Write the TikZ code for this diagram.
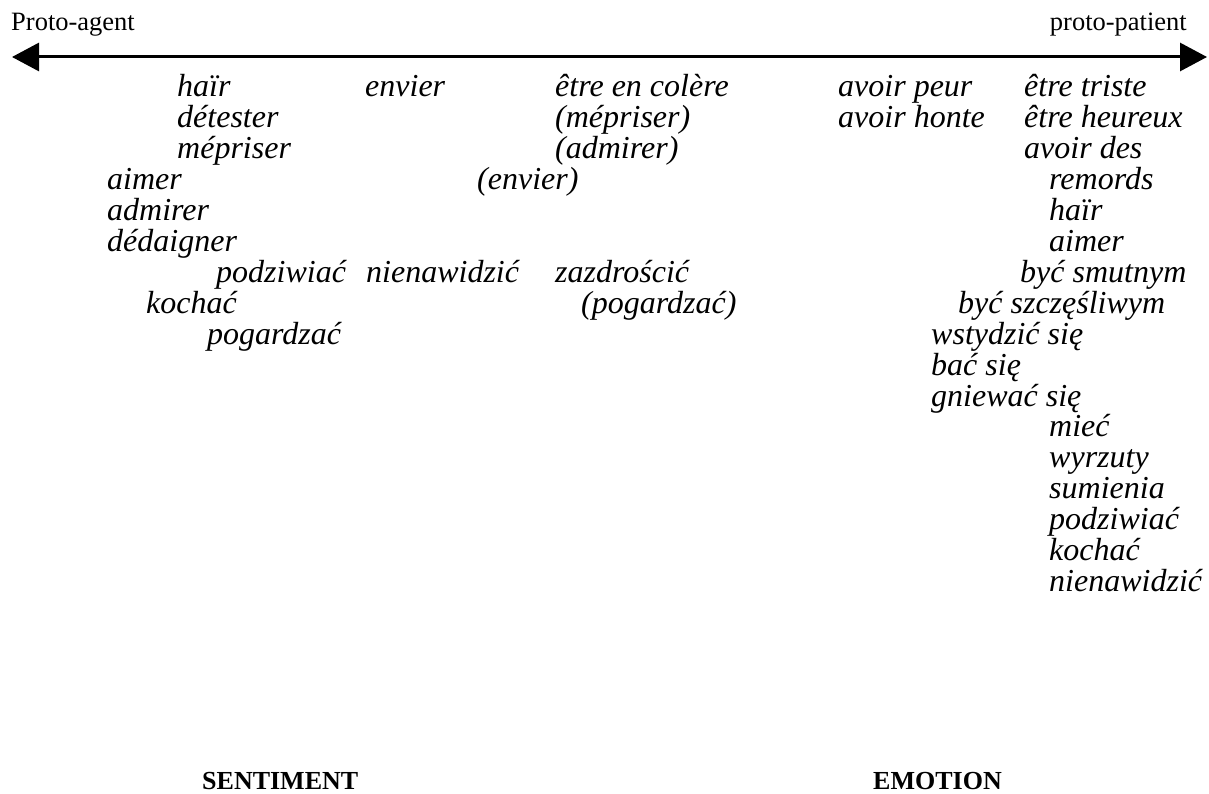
\documentclass[tikz,border=0pt]{standalone}
\usepackage{fontspec}
\setmainfont{Liberation Serif}[ItalicFont=Liberation Serif Italic,BoldFont=Liberation Serif Bold]
\usetikzlibrary{arrows.meta}
\tikzset{
  w/.style={anchor=base west,inner sep=0pt,font=\fontsize{32}{31}\selectfont\itshape},
  lab/.style={anchor=base west,inner sep=0pt,font=\fontsize{26.5}{28}\selectfont},
  cat/.style={anchor=base west,inner sep=0pt,font=\fontsize{26}{28}\selectfont\bfseries},
  axis/.style={line width=3pt,{Triangle[length=27pt,width=28pt]}-{Triangle[length=27pt,width=28pt]}}
}
\begin{document}
\begin{tikzpicture}[x=1pt,y=-1pt]
\useasboundingbox (0,0) rectangle (1209,794);
\node[lab] (pa) at (11,31) {Proto-agent};
\node[lab,anchor=base east] (pp) at (1187,31) {proto-patient};
\coordinate (L) at (12,57);
\coordinate (R) at (1207,57);
\draw[axis] (L) -- (R);
% row 1
\node[w] (a1) at (177,97) {haïr};
\node[w] (a2) at (365,97) {envier};
\node[w] (a3) at (555,97) {être en colère};
\node[w] (a4) at (838,97) {avoir peur};
\node[w] (a5) at (1024,97) {être triste};
% row 2
\node[w] (b1) at (177,127.9) {détester};
\node[w] (b3) at (555,127.9) {(mépriser)};
\node[w] (b4) at (838,127.9) {avoir honte};
\node[w] (b5) at (1024,127.9) {être heureux};
% row 3
\node[w] (c1) at (177,158.8) {mépriser};
\node[w] (c3) at (555,158.8) {(admirer)};
\node[w] (c5) at (1024,158.8) {avoir des};
% row 4
\node[w] (d1) at (107,189.7) {aimer};
\node[w] (d3) at (477,189.7) {(envier)};
\node[w] (d5) at (1049,189.7) {remords};
% row 5
\node[w] (e1) at (107,220.6) {admirer};
\node[w] (e5) at (1049,220.6) {haïr};
% row 6
\node[w] (f1) at (107,251.5) {dédaigner};
\node[w] (f5) at (1049,251.5) {aimer};
% row 7
\node[w] (g1) at (216,282.4) {podziwiać};
\node[w] (g2) at (366,282.4) {nienawidzić};
\node[w] (g3) at (555,282.4) {zazdrościć};
\node[w] (g5) at (1020,282.4) {być smutnym};
% row 8
\node[w] (h1) at (146,313.3) {kochać};
\node[w] (h3) at (581,313.3) {(pogardzać)};
\node[w] (h5) at (958,313.3) {być szczęśliwym};
% row 9
\node[w] (i1) at (207,344.2) {pogardzać};
\node[w] (i5) at (931,344.2) {wstydzić się};
% rows 10-17
\node[w] (j5) at (931,375.1) {bać się};
\node[w] (k5) at (931,406) {gniewać się};
\node[w] (l5) at (1049,436.9) {mieć};
\node[w] (m5) at (1049,467.8) {wyrzuty};
\node[w] (n5) at (1049,498.7) {sumienia};
\node[w] (o5) at (1049,529.6) {podziwiać};
\node[w] (p5) at (1049,560.5) {kochać};
\node[w] (q5) at (1049,591.4) {nienawidzić};
% categories
\node[cat] (sent) at (202,789) {SENTIMENT};
\node[cat] (emo) at (873,789) {EMOTION};
\end{tikzpicture}
\end{document}
